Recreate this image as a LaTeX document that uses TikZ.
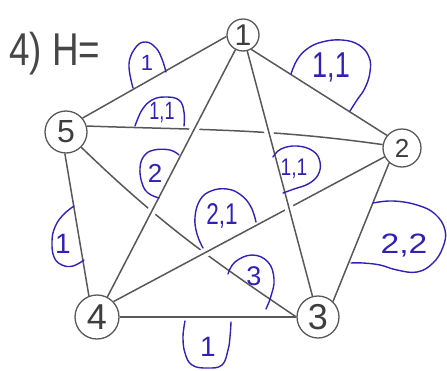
\documentclass[tikz,border=0pt]{standalone}
\usepackage{fontspec}
\setmainfont{Liberation Sans}
\usetikzlibrary{calc}
\definecolor{pencil}{RGB}{88,88,88}
\definecolor{ink}{RGB}{48,34,180}
\begin{document}
\begin{tikzpicture}[x=1pt,y=1pt,
  vtx/.style={circle,draw=pencil,line width=1.3pt,inner sep=0pt,text=pencil!70!black},
  edge/.style={draw=pencil,line width=1.5pt},
  gapper/.style={draw=white,line width=9pt,shorten <=30pt,shorten >=30pt},
  loopline/.style={draw=ink,line width=1.4pt,line cap=round},
  lbl/.style={text=ink,inner sep=0pt}]
\useasboundingbox (0,0) rectangle (447,-370);
% title
\node[anchor=base west,inner sep=0pt,text=pencil!80!black,font=\fontsize{46}{46}\selectfont] (title) at (9,-65) {\scalebox{0.8}[1]{4) H=}};
% vertices
\node[vtx,minimum size=32pt,font=\fontsize{30}{30}\selectfont] (n1) at (243,-35) {1};
\node[vtx,minimum size=38pt,font=\fontsize{26}{26}\selectfont] (n2) at (402,-148) {2};
\node[vtx,minimum size=42pt,font=\fontsize{36}{36}\selectfont] (n3) at (318,-317) {3};
\node[vtx,minimum size=44pt,font=\fontsize{36}{36}\selectfont] (n4) at (97,-317) {4};
\node[vtx,minimum size=42pt,font=\fontsize{32}{32}\selectfont] (n5) at (66,-132) {5};
% edges (lower layer)
\draw[edge] (n1.185) -- (n5.40);
\draw[edge] (n1.-60) -- (n2.140);
\draw[edge] (n5.-93) -- (n4.111);
\draw[edge] (n2.-131) -- (n3.46);
\draw[edge] (n4) -- (n3);
\draw[edge] (n5.16) to[out=-2,in=172] (n2.170);
\draw[edge] (n5.-45) to[out=-44,in=146] (n3.180);
% edges passing over (with gaps in the ones below)
\draw[gapper] (n2.-153) -- (n4.43);
\draw[edge] (n2.-153) -- (n4.43);
\draw[gapper] (n1) -- (n3);
\draw[edge] (n1) -- (n3);
\draw[gapper] (n1) -- (n4);
\draw[edge] (n1) -- (n4);
% blue loops
\draw[loopline] plot[smooth,tension=0.7] coordinates {(133,-88) (129,-64) (136,-47) (146,-42) (156,-48) (162,-59) (166,-72)};
\draw[loopline] plot[smooth,tension=0.7] coordinates {(135,-126) (142,-110) (152,-100) (165,-97) (179,-100) (184,-112) (184,-126)};
\draw[loopline] plot[smooth,tension=0.7] coordinates {(291,-74) (297,-60) (307,-49) (322,-42) (342,-40) (359,-45) (369,-57) (370,-72) (365,-88) (357,-100) (350,-111)};
\draw[loopline] plot[smooth,tension=0.7] coordinates {(273,-157) (281,-149) (297,-146) (313,-151) (320,-162) (318,-175) (308,-184) (294,-189) (283,-193)};
\draw[loopline] plot[smooth,tension=0.7] coordinates {(179,-155) (170,-150) (154,-150) (144,-156) (140,-168) (142,-183) (148,-193) (159,-198)};
\draw[loopline] plot[smooth,tension=0.7] coordinates {(256,-222) (251,-207) (241,-195) (227,-189) (211,-191) (200,-200) (195,-217) (197,-234) (203,-248)};
\draw[loopline] plot[smooth,tension=0.7] coordinates {(228,-274) (235,-262) (252,-255) (268,-262) (274,-279) (271,-296) (266,-309)};
\draw[loopline] plot[smooth,tension=0.7] coordinates {(373,-203) (393,-201) (417,-205) (435,-214) (445,-230) (443,-247) (433,-263) (417,-272) (397,-270) (380,-265) (363,-263) (351,-263)};
\draw[loopline] plot[smooth,tension=0.7] coordinates {(74,-206) (63,-215) (55,-227) (52,-241) (54,-257) (62,-265) (73,-266) (84,-260)};
\draw[loopline] plot[smooth,tension=0.7] coordinates {(185,-321) (183,-337) (185,-353) (192,-365) (207,-368) (222,-365) (228,-350) (230,-337) (231,-322)};
% labels
\node[lbl,font=\fontsize{22}{22}\selectfont] (l1) at (147,-63) {1};
\node[lbl,font=\fontsize{25}{25}\selectfont] (l2) at (162,-112) {\scalebox{0.72}[1]{1,1}};
\node[lbl,font=\fontsize{36}{36}\selectfont] (l3) at (331,-67) {\scalebox{0.75}[1]{1,1}};
\node[lbl,font=\fontsize{24}{24}\selectfont] (l4) at (294,-169) {\scalebox{0.8}[1]{1,1}};
\node[lbl,font=\fontsize{26}{26}\selectfont] (l5) at (155,-173) {2};
\node[lbl,font=\fontsize{30}{30}\selectfont] (l6) at (222,-216) {\scalebox{0.75}[1]{2,1}};
\node[lbl,font=\fontsize{27}{27}\selectfont] (l7) at (254,-276) {3};
\node[lbl,font=\fontsize{28}{28}\selectfont] (l8) at (404,-246) {\scalebox{1.2}[1]{2,2}};
\node[lbl,font=\fontsize{28}{28}\selectfont] (l9) at (63,-244) {1};
\node[lbl,font=\fontsize{28}{28}\selectfont] (l10) at (208,-347) {1};
\end{tikzpicture}
\end{document}
